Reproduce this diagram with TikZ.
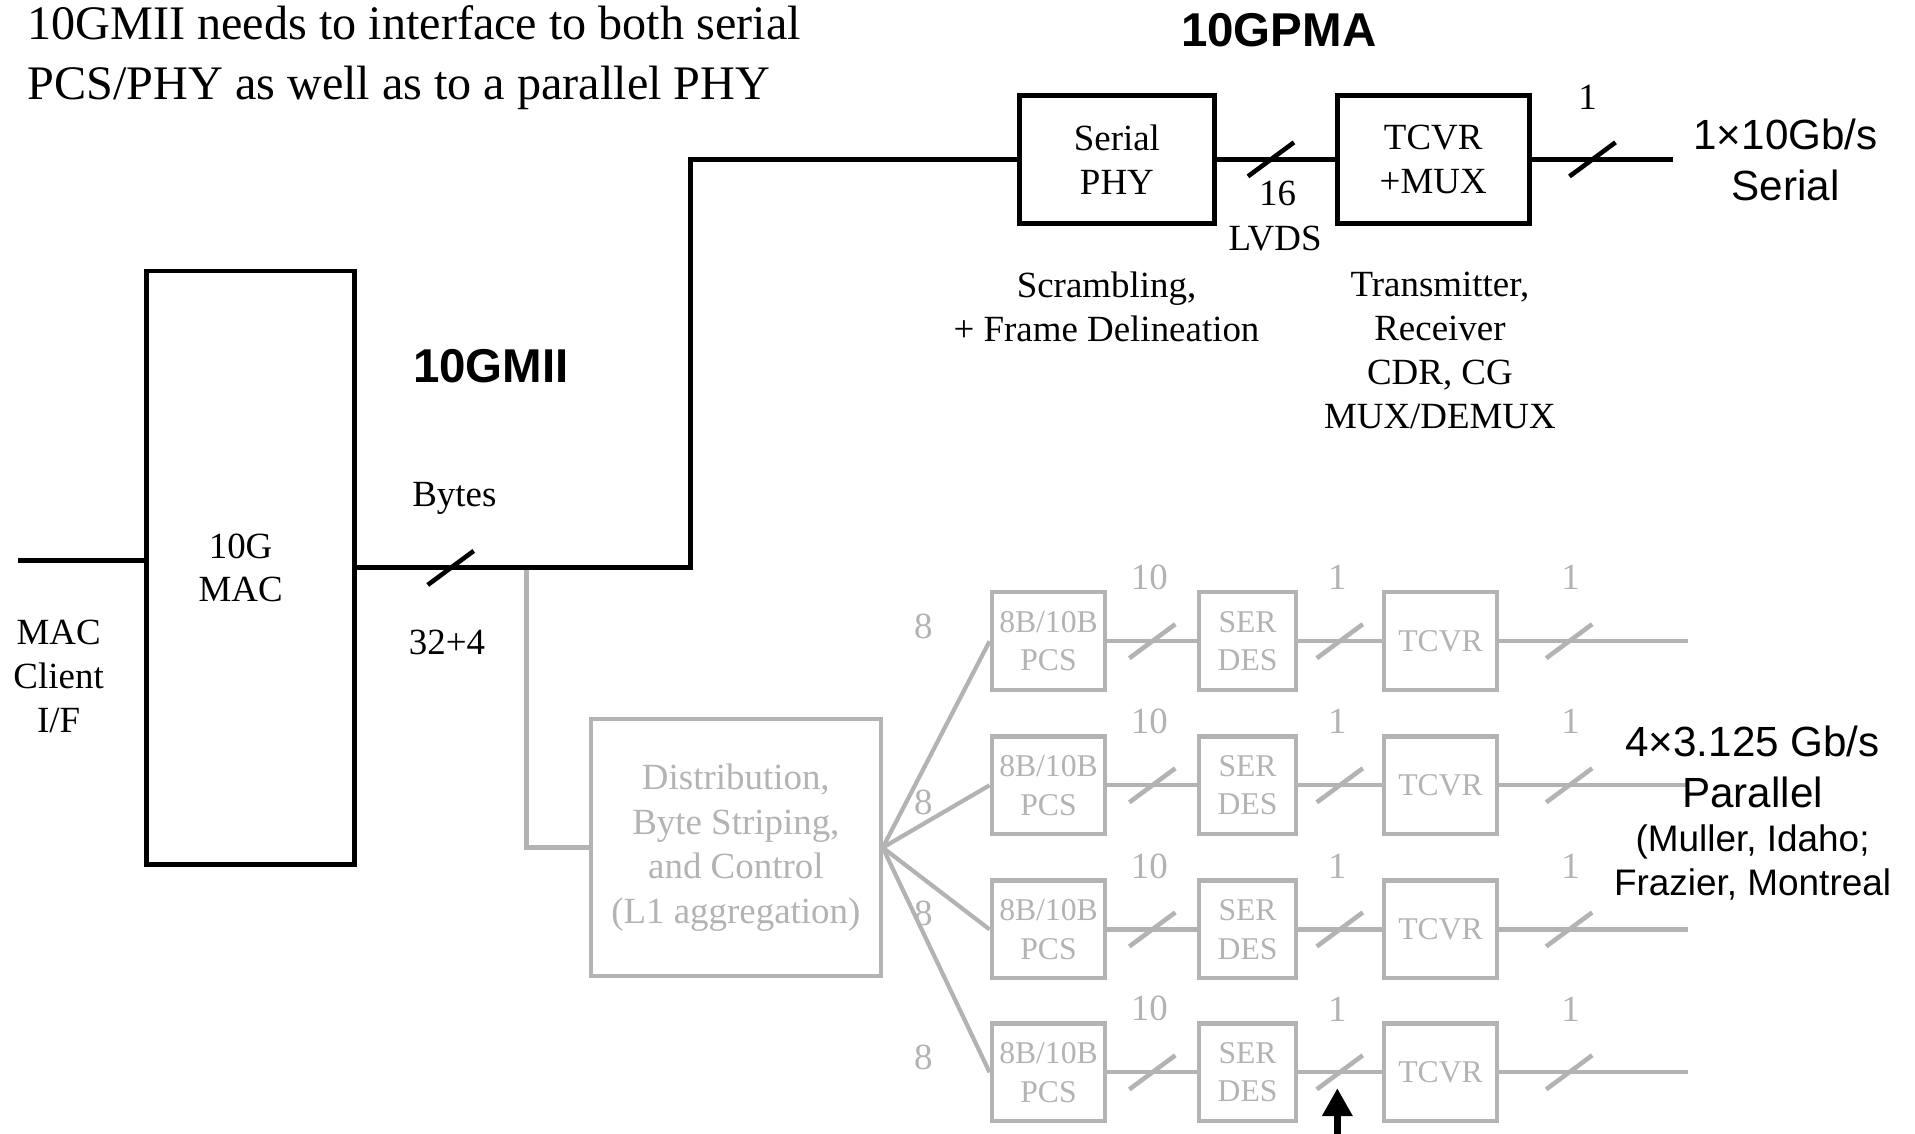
\documentclass[tikz,border=0pt]{standalone}
\usepackage{fontspec}
\setmainfont{Liberation Serif}
\setsansfont{Liberation Sans}
\usetikzlibrary{arrows.meta,calc,decorations.markings}
\definecolor{linkGray}{HTML}{B3B3B3}
\tikzset{
  blk/.style    ={draw=black,line width=1.4pt,align=center,inner sep=0pt,
                  font=\fontsize{10.5}{12.5}\selectfont},
  gblk/.style   ={blk,draw=linkGray,line width=1.2pt,text=linkGray},
  cell/.style   ={gblk,minimum height=0.977cm,font=\fontsize{9}{11}\selectfont},
  wire/.style   ={black,line width=1.4pt},
  gwire/.style  ={linkGray,line width=1.2pt},
  bus/.style    ={postaction={decorate,decoration={markings,
                  mark=at position #1 with {\draw[line width=1.3pt] (-2.3mm,-1.7mm) -- (2.3mm,1.7mm);}}}},
  lbl/.style    ={font=\fontsize{10.5}{12.5}\selectfont,align=center,inner sep=0pt},
  glbl/.style   ={lbl,text=linkGray},
  hdr/.style    ={font=\sffamily\bfseries\fontsize{13.5}{16}\selectfont,inner sep=0pt},
  rate/.style   ={font=\sffamily\fontsize{12}{14.5}\selectfont,align=center,inner sep=0pt},
  pointer/.style={-{Triangle[length=2.8mm,width=2.9mm]},line width=2pt},
}
\begin{document}
\begin{tikzpicture}[x=0.012213cm,y=-0.012213cm]
\useasboundingbox (0,0) rectangle (1568,928);

% headings
\node[lbl,font=\fontsize{13.7}{17}\selectfont,align=left,anchor=west] (intro) at (22,47)
  {10GMII needs to interface to both serial\\PCS/PHY as well as to a parallel PHY};
\node[hdr] (pmahdr) at (1047,25) {10GPMA};
\node[hdr] (miihdr) at (402,300) {10GMII};

% mac
\node[blk,minimum width=2.076cm,minimum height=5.935cm] (mac) at (205,465) {};
\node[lbl] (macname) at (197,465) {10G\\MAC};
\node[lbl] (client) at (48,554) {MAC\\Client\\I/F};
\coordinate (clientin) at (15,459);
\draw[wire] (clientin) -- (clientin -| mac.west);

% parallel branch (drawn first, the black bus sits on top)
\node[gblk,minimum width=2.894cm,minimum height=2.565cm,font=\fontsize{10.5}{12.7}\selectfont]
  (dist) at (602.5,694) {Distribution,\\Byte Striping,\\and Control\\(L1 aggregation)};
\coordinate (tap) at ($(mac.east)+(139,0)$);
\draw[gwire] (tap) |- (dist.west);

\foreach \i/\y/\e in {1/525/513,2/643/657,3/761/748,4/878/866}{
  \node[cell,minimum width=1.136cm] (pcs\i) at (858.5,\y) {8B/10B\\PCS};
  \node[cell,minimum width=0.965cm] (sd\i) at (1021.5,\y) {SER\\DES};
  \node[cell,minimum width=1.136cm] (tc\i) at (1179.5,\y) {TCVR};
  \coordinate (out\i) at (1382,\y);
  \draw[gwire] (dist.east) -- (pcs\i.west);
  \draw[gwire,bus=0.5] (pcs\i) -- (sd\i);
  \draw[gwire,bus=0.5] (sd\i) -- (tc\i);
  \draw[gwire,bus=0.37] (tc\i) -- (out\i);
  \node[glbl] (eight\i) at (756,\e) {8};
  \node[glbl] (ten\i) at (941,\y-52) {10};
  \node[glbl] (oneA\i) at (1095,\y-52) {1};
  \node[glbl] (oneB\i) at (1286,\y-52) {1};
}

% serial branch
\node[blk,minimum width=1.942cm,minimum height=1.282cm] (sphy) at (914.5,130.5) {Serial\\PHY};
\node[blk,minimum width=1.917cm,minimum height=1.282cm] (tmux) at (1173.5,130.5) {TCVR\\+MUX};
\coordinate (serout) at (1370,130.5);
\draw[wire,bus=0.94cm] (mac.east) -- ++(273,0) |- (sphy.west);
\draw[wire,bus=0.46] (sphy) -- (tmux);
\draw[wire,bus=0.43] (tmux) -- (serout);

\node[lbl] (bytes) at (372,408) {Bytes};
\node[lbl] (bwidth) at (366,526) {32+4};
\node[lbl] (lvdsn) at (1046,158) {16};
\node[lbl] (lvds) at (1044,195) {LVDS};
\node[lbl] (serw) at (1300,80) {1};
\node[rate] (serrate) at (1462,131) {1×10Gb/s\\Serial};
\node[lbl] (scr) at (906,251) {Scrambling,\\+ Frame Delineation};
\node[lbl] (txrx) at (1179,287) {Transmitter,\\Receiver\\CDR, CG\\MUX/DEMUX};

% parallel rate
\node[rate] (parrate) at (1435,628) {4×3.125 Gb/s\\Parallel};
\node[lbl,font=\sffamily\fontsize{10.5}{12.5}\selectfont] (parsrc) at (1435,706)
  {(Muller, Idaho;\\Frazier, Montreal};

% pointer
\coordinate (ptail) at (1095,930);
\coordinate (ptip) at (1095,891);
\draw[pointer] (ptail) -- (ptip);
\end{tikzpicture}
\end{document}
